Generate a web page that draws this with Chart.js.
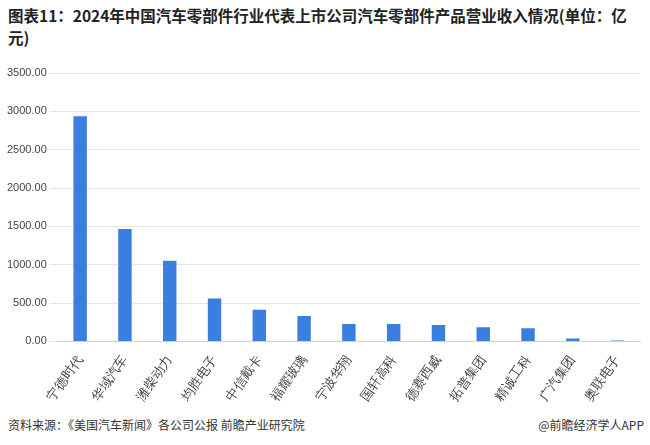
<!DOCTYPE html>
<html>
<head>
<meta charset="utf-8">
<script src="https://cdn.jsdelivr.net/npm/chart.js@4"></script>
<style>
body { margin: 0; background: #fff; font-family: "Noto Sans CJK SC", sans-serif; }
#title { position: absolute; left: 8px; top: 4px; width: 625px; font-size: 15.5px; font-weight: bold; color: #222; line-height: 22px; }
#wrap { position: absolute; left: 0; top: 63px; width: 650px; height: 344px; }
#src { position: absolute; left: 8px; top: 416px; font-size: 12px; color: #333; }
#logo { position: absolute; right: 6px; top: 416px; font-size: 12px; color: #333; }
</style>
</head>
<body>
<div id="title">图表11：2024年中国汽车零部件行业代表上市公司汽车零部件产品营业收入情况(单位：亿元)</div>
<div id="wrap"><canvas id="chart"></canvas></div>
<div id="src">资料来源：《美国汽车新闻》各公司公报 前瞻产业研究院</div>
<div id="logo">@前瞻经济学人APP</div>
<script>
'use strict';

// Companies and revenue (亿元)
var companies = ['宁德时代', '华域汽车', '潍柴动力', '均胜电子', '中信戴卡', '福耀玻璃', '宁波华翔',
    '国轩高科', '德赛西威', '拓普集团', '精诚工科', '广汽集团', '奥联电子'];
var revenue = [2935, 1465, 1052, 559, 413, 333, 226, 226, 213, 186, 173, 40, 13];

var ctx = document.getElementById('chart').getContext('2d');
var chart = new Chart(ctx, {
    type: 'bar',
    data: {
        labels: companies,
        datasets: [{
            data: revenue,
            backgroundColor: '#3a7fe0',
            barPercentage: 0.6,
            categoryPercentage: 0.5
        }]
    },
    options: {
        responsive: true,
        maintainAspectRatio: false,
        animation: false,
        layout: { padding: { left: 4, right: 10, top: 10 } },
        plugins: { legend: { display: false }, tooltip: { enabled: false } },
        scales: {
            x: {
                grid: { display: false },
                border: { color: '#d0d0d0' },
                ticks: { color: '#444', font: { size: 13 }, maxRotation: 55, minRotation: 55 }
            },
            y: {
                min: 0,
                max: 3500,
                ticks: {
                    stepSize: 500,
                    color: '#444',
                    font: { size: 11 },
                    callback: function (v) { return v.toFixed(2); }
                },
                grid: { color: '#e4e4e4' },
                border: { display: false }
            }
        }
    }
});
</script>
</body>
</html>
